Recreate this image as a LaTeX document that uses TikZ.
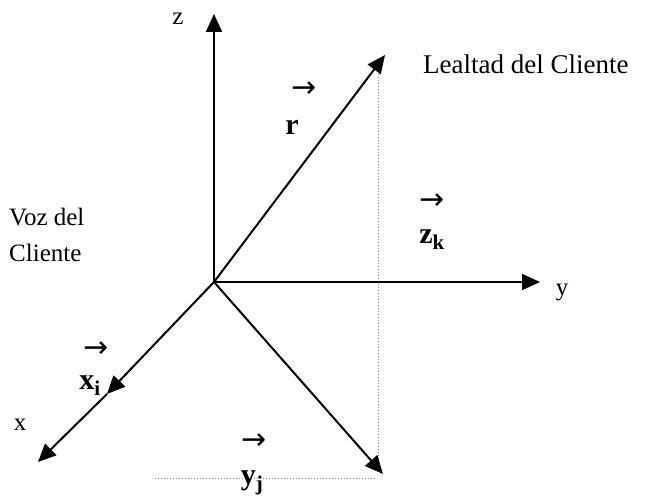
\documentclass[tikz,border=0pt]{standalone}
\usepackage{fontspec}
\setmainfont{Liberation Serif}
\newfontfamily\arrowfont{DejaVu Sans}
\usetikzlibrary{arrows.meta}
\tikzset{
  vec/.style={line width=2pt,-{Triangle[length=18pt,width=16pt]}},
  guide/.style={gray,line width=0.9pt,dash pattern=on 1.2pt off 1.8pt},
  lbl/.style={inner sep=0pt,font=\fontsize{25}{29}\selectfont},
  bl/.style={inner sep=0pt,font=\fontsize{30}{34}\selectfont\bfseries},
  arr/.style={inner sep=0pt,font=\fontsize{30}{33}\arrowfont},
}
\begin{document}
\begin{tikzpicture}[x=1pt,y=-1pt]
\useasboundingbox (0,0) rectangle (650,502);
\coordinate (O) at (214,282);
\coordinate (zend) at (214,14);
\coordinate (yend) at (540,282);
\coordinate (xi) at (107,394);
\coordinate (xend) at (38,462);
\coordinate (rt) at (385,55);
\coordinate (vt) at (383,474);
\coordinate (dv1) at (378,62);
\coordinate (dv2) at (378,470);
\coordinate (dh1) at (155,478);
\coordinate (dh2) at (376,478);
% dotted guides
\draw[guide] (dv1) -- (dv2);
\draw[guide] (dh1) -- (dh2);
% axes and vectors
\draw[vec] (O) -- (zend);
\draw[vec] (O) -- (yend);
\draw[vec] (O) -- (xi);
\draw[vec] (xi) -- (xend);
\draw[vec] (O) -- (rt);
\draw[vec] (O) -- (vt);
% labels
\node[lbl] (lz) at (178,19) {z};
\node[lbl,anchor=west,font=\fontsize{27}{31}\selectfont] (lleal) at (423,64) {Lealtad del Cliente};
\node[arr] (ar) at (304,90) {→};
\node[bl] (lr) at (292,127) {r};
\node[arr] (azk) at (432,202) {→};
\node[bl] (lzk) at (432,240) {z\textsubscript{k}};
\node[lbl,anchor=west] (lvoz) at (9,217) {Voz del};
\node[lbl,anchor=west] (lcli) at (9,253) {Cliente};
\node[lbl] (ly) at (562,292) {y};
\node[arr] (axi) at (96,350) {→};
\node[bl] (lxi) at (90,386) {x\textsubscript{i}};
\node[lbl] (lx) at (20,425) {x};
\node[arr] (ayj) at (254,442) {→};
\node[bl] (lyj) at (252,483) {y\textsubscript{j}};
\end{tikzpicture}
\end{document}
